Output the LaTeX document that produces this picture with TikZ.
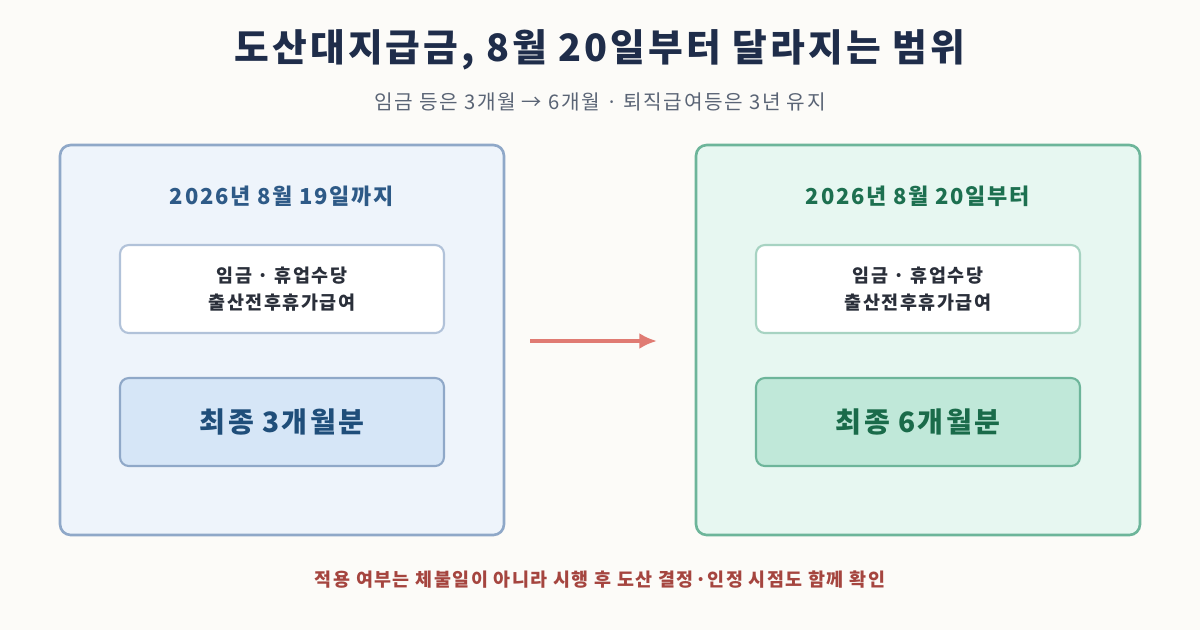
\documentclass[tikz,border=0pt]{standalone}
\usepackage{fontspec}
\setmainfont{Noto Sans CJK KR}[LetterSpace=8]
\usetikzlibrary{positioning,arrows.meta}
\definecolor{bgcol}{HTML}{FCFBF8}
\definecolor{titlecol}{HTML}{1F2D4A}
\definecolor{subcol}{HTML}{5A6475}
\definecolor{leftfill}{HTML}{EEF4FB}
\definecolor{leftline}{HTML}{8FA8C8}
\definecolor{lefthead}{HTML}{2E5A87}
\definecolor{leftbox}{HTML}{D6E6F7}
\definecolor{lefttext}{HTML}{1F4E7A}
\definecolor{rightfill}{HTML}{E7F7F1}
\definecolor{rightline}{HTML}{6DB59A}
\definecolor{righthead}{HTML}{1D7050}
\definecolor{rightbox}{HTML}{C0E8D9}
\definecolor{righttext}{HTML}{1A6B4A}
\definecolor{arrowcol}{HTML}{E07B73}
\definecolor{footcol}{HTML}{A5453F}
\definecolor{darktext}{HTML}{2A2F3A}
\tikzset{
  panel/.style={draw, line width=1.5pt, rounded corners=6pt, minimum width=8.88cm, minimum height=7.8cm},
  itembox/.style={draw, line width=1.2pt, rounded corners=5pt, fill=white, minimum width=6.48cm, minimum height=1.76cm, align=center, text=darktext, font=\bfseries\fontsize{10.5}{15}\selectfont},
  sumbox/.style={draw, line width=1.2pt, rounded corners=5pt, minimum width=6.48cm, minimum height=1.76cm, font=\bfseries\fontsize{16}{19}\selectfont},
  heading/.style={font=\bfseries\fontsize{12.5}{15}\selectfont}
}
\begin{document}
\begin{tikzpicture}[x=0.02cm,y=-0.02cm]
\fill[bgcol] (0,0) rectangle (1200,630);
\node[text=titlecol, font=\bfseries\fontsize{21.5}{25}\selectfont] (title) at (600,50) {도산대지급금, 8월 20일부터 달라지는 범위};
\node[text=subcol, font=\fontsize{11.5}{14}\selectfont] (subtitle) at (600,102) {임금 등은 3개월 → 6개월 · 퇴직급여등은 3년 유지};
% left panel
\node[panel, draw=leftline, fill=leftfill] (left) at (282,340) {};
\node[heading, text=lefthead] (lefthead) at (282,196) {2026년 8월 19일까지};
\node[itembox, draw=leftline!70] (leftitem) at (282,289) {임금 · 휴업수당\\출산전후휴가급여};
\node[sumbox, draw=leftline, fill=leftbox, text=lefttext] (leftsum) at (282,422) {최종 3개월분};
% right panel
\node[panel, draw=rightline, fill=rightfill] (right) at (918,340) {};
\node[heading, text=righthead] (righthead) at (918,196) {2026년 8월 20일부터};
\node[itembox, draw=rightline!60] (rightitem) at (918,289) {임금 · 휴업수당\\출산전후휴가급여};
\node[sumbox, draw=rightline, fill=rightbox, text=righttext] (rightsum) at (918,422) {최종 6개월분};
% arrow
\coordinate (a1) at (530,341);
\coordinate (a2) at (657,341);
\draw[arrowcol, line width=2pt, -{Latex[length=10pt,width=9pt]}] (a1) -- (a2);
\node[text=footcol, font=\bfseries\fontsize{10.5}{13}\selectfont] (foot) at (600,580) {적용 여부는 체불일이 아니라 시행 후 도산 결정·인정 시점도 함께 확인};
\end{tikzpicture}
\end{document}
